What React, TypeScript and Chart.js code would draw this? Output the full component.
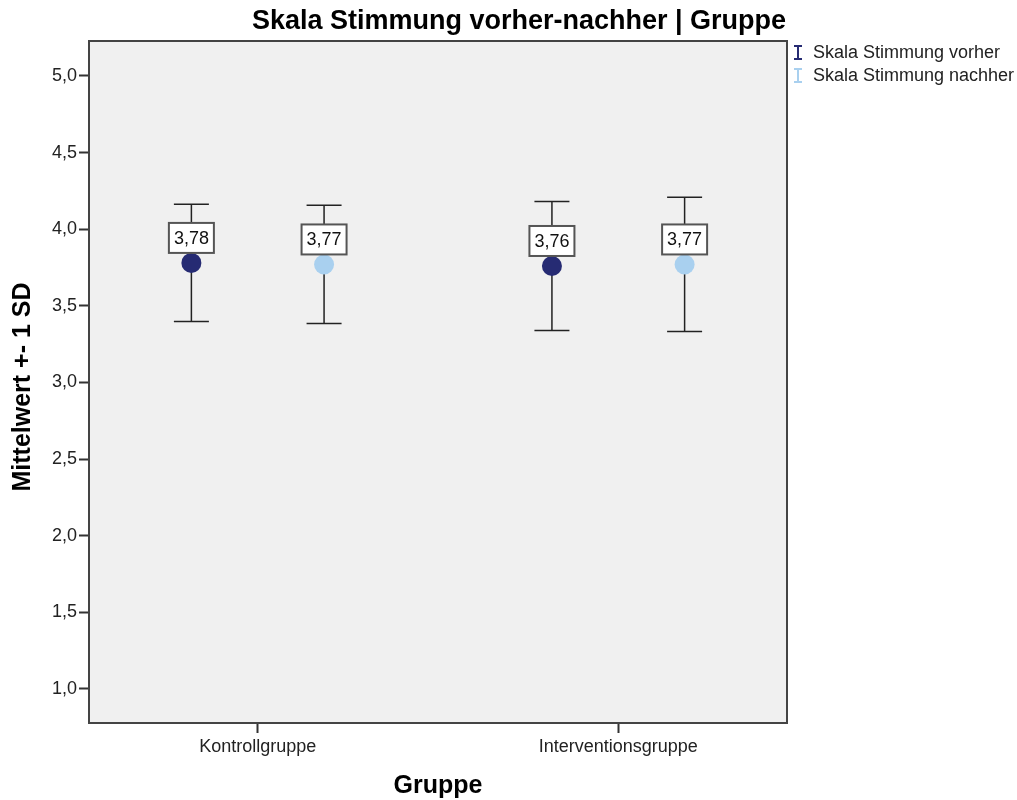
import React, { useEffect, useRef } from "react";
import { Chart, registerables } from "chart.js";

Chart.register(...registerables);

const categories = ["Kontrollgruppe", "Interventionsgruppe"];
const seriesNames = ["Skala Stimmung vorher", "Skala Stimmung nachher"];
const vorherMeans = [3.78, 3.76];
const nachherMeans = [3.77, 3.77];
const vorherSD = [0.383, 0.421];
const nachherSD = [0.386, 0.438];
const yTicks = [1.0, 1.5, 2.0, 2.5, 3.0, 3.5, 4.0, 4.5, 5.0];

const FONT = "'Liberation Sans', Arial, sans-serif";
const DARK = "#262B73";
const LIGHT = "#A9D0EF";
const OFFSET = 0.184;

const fmt = (v: number, d: number) => v.toFixed(d).replace(".", ",");

const overlay = {
  id: "overlay",
  beforeDraw(chart: any) {
    const { ctx, chartArea: a } = chart;
    ctx.save();
    ctx.fillStyle = "#F0F0F0";
    ctx.fillRect(a.left, a.top, a.right - a.left, a.bottom - a.top);
    ctx.restore();
  },
  beforeDatasetsDraw(chart: any) {
    const { ctx } = chart;
    const xs = chart.scales.x;
    const ys = chart.scales.y;
    ctx.save();
    ctx.strokeStyle = "#222";
    ctx.lineWidth = 1.5;
    chart.data.datasets.forEach((ds: any) => {
      ds.data.forEach((p: any) => {
        const x = xs.getPixelForValue(p.x);
        const yt = ys.getPixelForValue(p.y + p.sd);
        const yb = ys.getPixelForValue(p.y - p.sd);
        ctx.beginPath();
        ctx.moveTo(x, yt);
        ctx.lineTo(x, yb);
        ctx.moveTo(x - 17.5, yt);
        ctx.lineTo(x + 17.5, yt);
        ctx.moveTo(x - 17.5, yb);
        ctx.lineTo(x + 17.5, yb);
        ctx.stroke();
      });
    });
    ctx.restore();
  },
  afterDatasetsDraw(chart: any) {
    const { ctx, chartArea: a } = chart;
    const xs = chart.scales.x;
    const ys = chart.scales.y;
    ctx.save();
    // value labels
    chart.data.datasets.forEach((ds: any) => {
      ds.data.forEach((p: any) => {
        const x = xs.getPixelForValue(p.x);
        const y = ys.getPixelForValue(p.y);
        const w = 45;
        const h = 30;
        const bx = x - w / 2;
        const by = y - 10 - h;
        ctx.fillStyle = "#FFFFFF";
        ctx.fillRect(bx, by, w, h);
        ctx.strokeStyle = "#555";
        ctx.lineWidth = 2;
        ctx.strokeRect(bx, by, w, h);
        ctx.fillStyle = "#111";
        ctx.font = `18px ${FONT}`;
        ctx.textAlign = "center";
        ctx.textBaseline = "middle";
        ctx.fillText(fmt(p.y, 2), x, by + h / 2 + 1);
      });
    });
    // plot border
    ctx.strokeStyle = "#444";
    ctx.lineWidth = 2;
    ctx.strokeRect(a.left, a.top, a.right - a.left, a.bottom - a.top);
    // title
    ctx.fillStyle = "#000";
    ctx.font = `bold 27px ${FONT}`;
    ctx.textAlign = "center";
    ctx.textBaseline = "middle";
    ctx.fillText("Skala Stimmung vorher-nachher | Gruppe", 519, 22);
    // x title
    ctx.font = `bold 25px ${FONT}`;
    ctx.fillText("Gruppe", 438, 786);
    // y title
    ctx.save();
    ctx.translate(23, 387);
    ctx.rotate(-Math.PI / 2);
    ctx.fillText("Mittelwert +- 1 SD", 0, 0);
    ctx.restore();
    // legend
    const items = [
      { c: DARK, t: seriesNames[0], y: 53 },
      { c: LIGHT, t: seriesNames[1], y: 76 },
    ];
    items.forEach((it) => {
      ctx.strokeStyle = it.c;
      ctx.lineWidth = 2;
      ctx.beginPath();
      ctx.moveTo(798, it.y - 7);
      ctx.lineTo(798, it.y + 6);
      ctx.moveTo(794, it.y - 7);
      ctx.lineTo(802, it.y - 7);
      ctx.moveTo(794, it.y + 6);
      ctx.lineTo(802, it.y + 6);
      ctx.stroke();
      ctx.fillStyle = "#222";
      ctx.font = `18px ${FONT}`;
      ctx.textAlign = "left";
      ctx.textBaseline = "middle";
      ctx.fillText(it.t, 813, it.y);
    });
    ctx.restore();
  },
};

export default function App() {
  const ref = useRef<HTMLCanvasElement | null>(null);
  useEffect(() => {
    if (!ref.current) return;
    const mk = (means: number[], sds: number[], off: number) =>
      means.map((m, i) => ({ x: i + 1 + off, y: m, sd: sds[i] }));
    const chart = new Chart(ref.current, {
      type: "scatter",
      data: {
        datasets: [
          {
            label: seriesNames[0],
            data: mk(vorherMeans, vorherSD, -OFFSET),
            backgroundColor: DARK,
            borderWidth: 0,
            pointRadius: 10,
          },
          {
            label: seriesNames[1],
            data: mk(nachherMeans, nachherSD, OFFSET),
            backgroundColor: LIGHT,
            borderWidth: 0,
            pointRadius: 10,
          },
        ] as any,
      },
      options: {
        animation: false,
        responsive: false,
        events: [],
        layout: { padding: { left: 0, top: 41, right: 230, bottom: 0 } },
        plugins: {
          legend: { display: false },
          title: { display: false },
          tooltip: { enabled: false },
        },
        scales: {
          x: {
            type: "linear",
            min: 0.532,
            max: 2.468,
            afterBuildTicks: (axis: any) => {
              axis.ticks = categories.map((_, i) => ({ value: i + 1 }));
            },
            afterFit: (axis: any) => {
              axis.height = 77;
            },
            ticks: {
              callback: (v: any) => categories[Number(v) - 1] ?? "",
              font: { family: FONT, size: 18 },
              color: "#222",
              padding: 3,
              maxRotation: 0,
              autoSkip: false,
            },
            grid: {
              drawOnChartArea: false,
              drawTicks: true,
              tickLength: 10,
              tickColor: "#333",
              tickWidth: 2,
            },
            border: { display: false },
          },
          y: {
            type: "linear",
            min: 0.778,
            max: 5.228,
            afterBuildTicks: (axis: any) => {
              axis.ticks = yTicks.map((v) => ({ value: v }));
            },
            afterFit: (axis: any) => {
              axis.width = 89;
            },
            ticks: {
              callback: (v: any) => fmt(Number(v), 1),
              font: { family: FONT, size: 18 },
              color: "#222",
              padding: 2,
            },
            grid: {
              drawOnChartArea: false,
              drawTicks: true,
              tickLength: 10,
              tickColor: "#333",
              tickWidth: 2,
            },
            border: { display: false },
          },
        },
      } as any,
      plugins: [overlay],
    });
    return () => chart.destroy();
  }, []);
  return (
    <div style={{ position: "absolute", left: 0, top: 0, width: 1017, height: 800, background: "#fff" }}>
      <canvas ref={ref} width={1017} height={800} style={{ width: 1017, height: 800 }} />
    </div>
  );
}
